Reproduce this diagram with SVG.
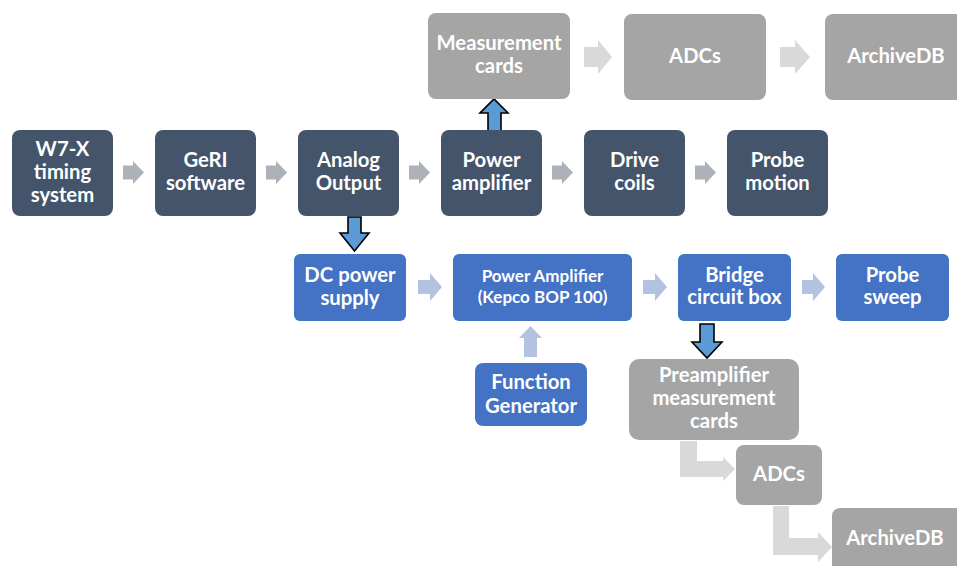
<svg xmlns="http://www.w3.org/2000/svg" width="957" height="566" viewBox="0 0 957 566">
<style>
.dark{fill:#44546A}
.blue{fill:#4472C4}
.gray{fill:#A5A5A5}
text{font-family:Lato,"Open Sans","Liberation Sans",sans-serif;font-weight:bold;fill:#FFFFFF;text-anchor:middle;font-size:20.3px}
.sm{font-size:17px}
.a1{fill:#ADB2B9}
.a2{fill:#D9D9D9}
.a3{fill:#B4C2E2}
.a4{fill:#5B9BD5;stroke:#000;stroke-width:1.6;stroke-linejoin:miter}
</style>
<rect width="957" height="566" fill="#FFFFFF"/>

<g id="connectors">
  <path class="a1" d="M123,165.5H133V161L144,172.5L133,184V179.5H123Z"/>
  <path class="a1" d="M266,165.5H276V161L287,172.5L276,184V179.5H266Z"/>
  <path class="a1" d="M409,165.5H419V161L430,172.5L419,184V179.5H409Z"/>
  <path class="a1" d="M552,165.5H562V161L573,172.5L562,184V179.5H552Z"/>
  <path class="a1" d="M695,165.5H705V161L716,172.5L705,184V179.5H695Z"/>
  <path class="a2" d="M584,47H598V40L612,57L598,74V67H584Z"/>
  <path class="a2" d="M780,47H795V40L810,57L795,74V67H780Z"/>
  <path class="a3" d="M418,280H430V273L442,287L430,301V294H418Z"/>
  <path class="a3" d="M643,280H655V273L667,287L655,301V294H643Z"/>
  <path class="a3" d="M802,280H813V273L825,287L813,301V294H802Z"/>
  <path class="a3" d="M524,357V338H519L530.5,326L542,338H537V357Z"/>
  <path class="a4" d="M348,217H361V233H369L354.5,251L340,233H348Z"/>
  <path class="a4" d="M488,131V113H480L494,99L508,113H501V131Z"/>
  <path class="a4" d="M700,324H714V342H722L707,358L692,342H700Z"/>
  <path class="a2" d="M680,441H697V461H723V457L735,469L723,481V477H680Z"/>
  <path class="a2" d="M773,506H789V538H818V532L832,547L818,562V555H773Z"/>
</g>

<g id="w7x"><rect class="dark" x="12" y="130" width="101" height="86" rx="8"/><text x="62.5" y="156">W7-X</text><text x="62.5" y="179">timing</text><text x="62.5" y="202">system</text></g>
<g id="geri"><rect class="dark" x="155" y="130" width="101" height="86" rx="8"/><text x="205.5" y="167">GeRI</text><text x="205.5" y="190">software</text></g>
<g id="analog"><rect class="dark" x="298" y="130" width="101" height="86" rx="8"/><text x="348.5" y="167">Analog</text><text x="348.5" y="190">Output</text></g>
<g id="poweramp"><rect class="dark" x="441" y="130" width="101" height="86" rx="8"/><text x="491.5" y="167">Power</text><text x="491.5" y="190">amplifier</text></g>
<g id="drivecoils"><rect class="dark" x="584" y="130" width="101" height="86" rx="8"/><text x="634.5" y="167">Drive</text><text x="634.5" y="190">coils</text></g>
<g id="probemotion"><rect class="dark" x="727" y="130" width="101" height="86" rx="8"/><text x="777.5" y="167">Probe</text><text x="777.5" y="190">motion</text></g>

<g id="meascards"><rect class="gray" x="428" y="13" width="142" height="86" rx="8"/><text x="499" y="50">Measurement</text><text x="499" y="73">cards</text></g>
<g id="adcs1"><rect class="gray" x="624" y="14" width="142" height="86" rx="8"/><text x="695" y="63">ADCs</text></g>
<g id="archivedb1"><rect class="gray" x="825" y="14" width="150" height="86" rx="8"/><text x="896" y="63">ArchiveDB</text></g>

<g id="dcpower"><rect class="blue" x="294" y="254" width="112" height="67" rx="6"/><text x="350" y="282">DC power</text><text x="350" y="305">supply</text></g>
<g id="kepco"><rect class="blue" x="453" y="254" width="179" height="67" rx="6"/><text class="sm" x="542.5" y="282">Power Amplifier</text><text class="sm" x="542.5" y="303">(Kepco BOP 100)</text></g>
<g id="bridge"><rect class="blue" x="678" y="254" width="113" height="67" rx="6"/><text x="734.5" y="282">Bridge</text><text x="734.5" y="304">circuit box</text></g>
<g id="probesweep"><rect class="blue" x="836" y="254" width="113" height="67" rx="6"/><text x="892.5" y="282">Probe</text><text x="892.5" y="304">sweep</text></g>
<g id="funcgen"><rect class="blue" x="475" y="363" width="112" height="63" rx="8"/><text x="531" y="389">Function</text><text x="531" y="413">Generator</text></g>

<g id="preamp"><rect class="gray" x="629" y="359" width="170" height="81" rx="10"/><text x="714" y="382">Preamplifier</text><text x="714" y="405">measurement</text><text x="714" y="428">cards</text></g>
<g id="adcs2"><rect class="gray" x="736" y="445" width="86" height="60" rx="8"/><text x="779" y="481">ADCs</text></g>
<g id="archivedb2"><rect class="gray" x="832" y="508" width="140" height="70" rx="8"/><text x="895" y="545">ArchiveDB</text></g>
</svg>
